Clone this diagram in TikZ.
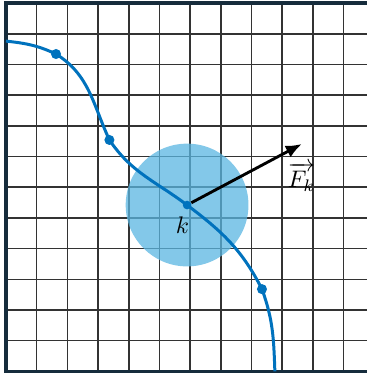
\documentclass[tikz,border=0pt]{standalone}
\usepackage{amsmath,amssymb}
\usepackage{xcolor}
\usepackage{tikz}
\usetikzlibrary{arrows.meta,positioning,calc}
\definecolor{framenavy}{RGB}{22,44,60}
\definecolor{pathblue}{RGB}{0,114,189}
\definecolor{zoneblue}{RGB}{90,182,225}

\begin{document}
\begin{tikzpicture}[x=0.45cm,y=0.45cm]
\path[use as bounding box,clip] (-0.195,-0.085) rectangle (11.76,12.1);
\tikzset{gridline/.style={black!80,line width=0.65pt}}
\tikzset{walk/.style={pathblue,line width=1.25pt}}
\tikzset{force/.style={-{Latex[length=6.7pt,width=5.4pt]},line width=1.2pt,black}}
% grid
\foreach \i in {1,...,11} {
  \draw[gridline] (\i,0) -- (\i,12);
  \draw[gridline] (0,\i) -- (12,\i);
}
\draw[framenavy,line width=1.5pt] (12,0) -- (0,0) -- (0,12) -- (12,12);
% points on the path
\coordinate (s0) at (0,10.76);
\coordinate (p1) at (1.63,10.34);
\coordinate (p2) at (3.37,7.54);
\coordinate (pk) at (5.9,5.42);
\coordinate (p4) at (8.34,2.68);
\coordinate (s1) at (8.76,0);
% neighbourhood of k
\fill[zoneblue,opacity=0.75] (pk) circle (2);
\draw[walk] (s0) to[out=-6,in=155] (p1) to[out=-32,in=115] (p2)
  to[out=-56,in=143] (pk) to[out=-37,in=117] (p4) to[out=-70,in=92] (s1);
\foreach \p in {p1,p2,p4} \fill[pathblue] (\p) circle (2.1pt);
\node[circle,fill=pathblue,inner sep=0pt,minimum size=3.6pt] (ptk) at (pk) {};
% force
\coordinate (ftip) at (9.64,7.41);
\draw[force] (ptk) -- (ftip);
\node (flabel) at (9.63,6.33) {$\overrightarrow{F_k}$};
\node (klabel) at (5.75,4.77) {$k$};
\end{tikzpicture}
\end{document}
